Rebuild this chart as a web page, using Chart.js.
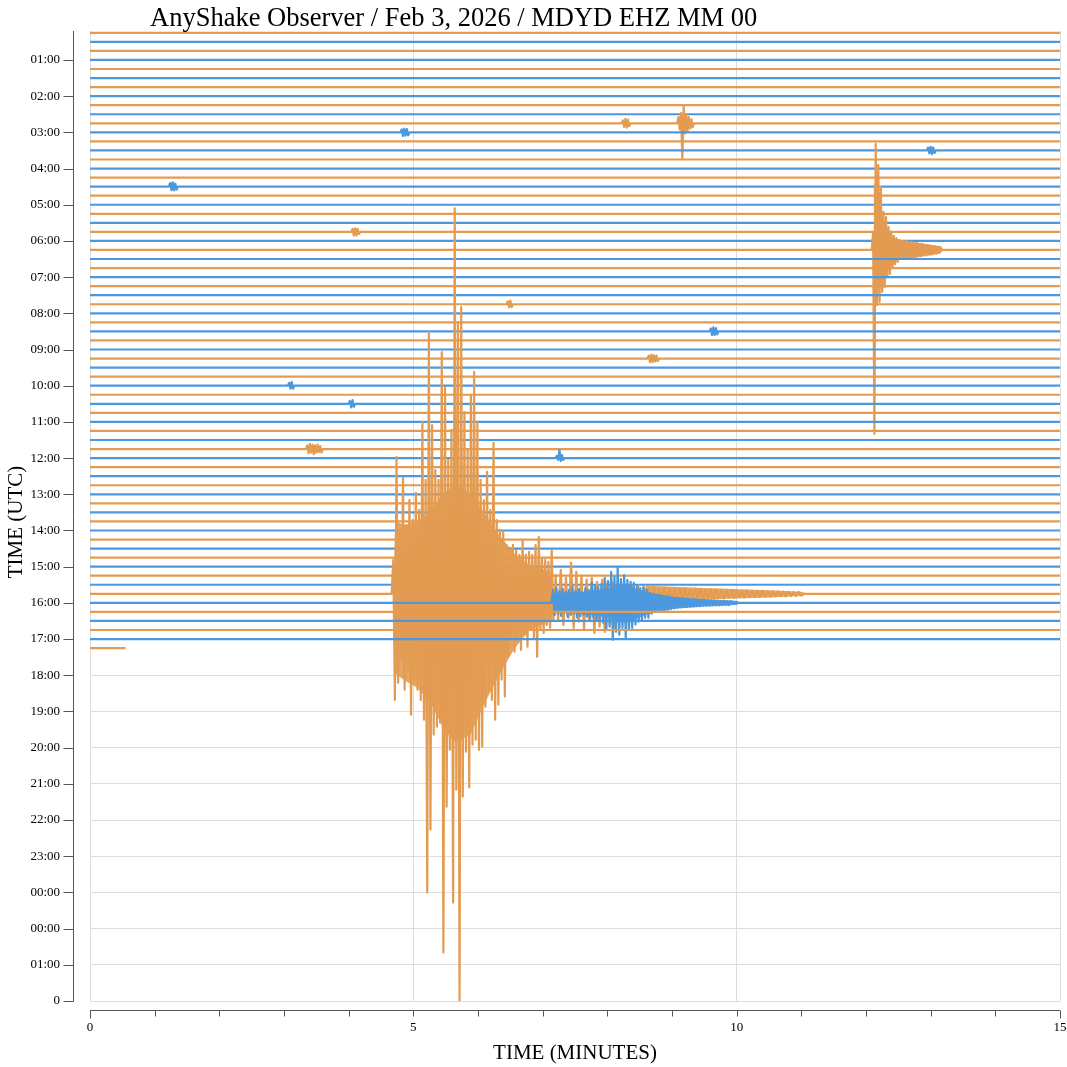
<!DOCTYPE html>
<html>
<head>
<meta charset="utf-8">
<title>AnyShake Observer helicorder</title>
<script src="https://cdn.jsdelivr.net/npm/chart.js@4.4.1/dist/chart.umd.min.js"></script>
<style>
  html, body { margin: 0; padding: 0; background: #fff; }
  #wrap { width: 1067px; height: 1067px; }
</style>
</head>
<body>
<div id="wrap"><canvas id="heli"></canvas></div>
<script>
"use strict";

// Labels
const chartTitle = "AnyShake Observer / Feb 3, 2026 / MDYD EHZ MM 00";
const yTitle = "TIME (UTC)";
const xTitle = "TIME (MINUTES)";
// y tick labels, bottom (0) to top (26)
const yTickLabels = ["0", "01:00", "00:00", "00:00", "23:00", "22:00", "21:00", "20:00", "19:00",
    "18:00", "17:00", "16:00", "15:00", "14:00", "13:00", "12:00", "11:00", "10:00", "09:00",
    "08:00", "07:00", "06:00", "05:00", "04:00", "03:00", "02:00", "01:00"];
const xLabelValues = [0, 5, 10, 15];

// Traces: 15 minute lines, 4 per hour row, top to bottom
const traceColors = ["#e39b51", "#4b98df"];
const envColors = ["rgba(227,155,81,0.9)", "rgba(75,152,223,0.9)"];
const traceCount = 69;
const firstTraceLevel = 26.75;
const traceSpacing = 0.25;
const lastTraceEnd = 0.55; // minutes recorded on the last (partial) line

// Main shock, line 62 (orange), samples every 0.025 min from 4.69 min
const mainShockValues = [
    0.94, -2.93, 3.78, -2.46, 1.77, -1.82, 3.20, -2.65, 1.90, -2.10,
    2.59, -3.34, 2.04, -2.37, 2.79, -2.65, 2.32, -2.93, 4.75, -3.48,
    3.15, -8.25, 7.23, -6.51, 4.66, -3.89, 3.42, -3.67, 3.15, -3.56,
    6.68, -9.91, 5.71, -5.88, 3.70, -4.31, 4.53, -8.53, 10.65, -5.41,
    7.51, -11.23, 7.92, -5.60, 5.02, -4.36, 3.97, -5.35, 5.49, -4.17,
    6.13, -4.03, 4.75, -4.31, 3.15, -4.22, 2.59, -3.12, 3.37, -2.65,
    2.32, -2.93, 4.17, -3.48, 2.04, -3.06, 1.77, -2.37, 1.71, -2.84,
    1.35, -1.74, 1.27, -1.27, 1.35, -1.60, 1.21, -1.27, 1.08, -1.55,
    1.49, -1.13, 1.08, -1.46, 1.16, -0.99, 1.08, -1.21, 1.35, -1.74,
    1.57, -0.99, 0.99, -1.08, 0.94, -0.86, 0.88, -0.94, 1.21, -0.72];

// Orange coda on the same line, every 0.04 min from 7.2 min
const mainCodaValues = [
    0.52, -0.72, 0.66, -0.86, 0.44, -0.66, 0.86, -0.94, 0.61, -0.77,
    0.50, -0.99, 0.39, -0.72, 0.44, -1.08, 0.33, -0.91, 0.39, -1.05,
    0.28, -0.83, 0.30, -0.94, 0.25, -0.72, 0.22, -0.80, 0.22, -0.66,
    0.20, -0.58, 0.19, -0.50, 0.18, -0.41, 0.17, -0.36, 0.17, -0.19,
    0.16, -0.17, 0.17, -0.16, 0.15, -0.17, 0.16, -0.15, 0.14, -0.16,
    0.15, -0.14, 0.13, -0.15, 0.14, -0.13, 0.13, -0.14, 0.12, -0.13,
    0.13, -0.12, 0.12, -0.12, 0.11, -0.12, 0.11, -0.10, 0.10, -0.11,
    0.10, -0.09, 0.09, -0.10, 0.09, -0.09, 0.08, -0.09, 0.08, -0.08,
    0.08, -0.08, 0.07, -0.08, 0.07, -0.07, 0.07, -0.06, 0.06, -0.07,
    0.06, -0.06, 0.05, -0.06, 0.05, -0.05];

// Blue line 63, every 0.025 min from 7.16 min
const blueCodaValues = [
    0.36, -0.33, 0.41, -0.30, 0.33, -0.36, 0.39, -0.28, 0.30, -0.39,
    0.36, -0.33, 0.44, -0.30, 0.33, -0.41, 0.38, -0.36, 0.30, -0.33,
    0.41, -0.38, 0.36, -0.44, 0.55, -0.41, 0.47, -0.50, 0.44, -0.47,
    0.52, -0.55, 0.69, -0.75, 0.60, -0.66, 0.86, -1.02, 0.72, -0.80,
    0.97, -0.88, 0.66, -0.69, 0.77, -0.97, 0.63, -0.72, 0.58, -0.69,
    0.55, -0.60, 0.47, -0.52, 0.41, -0.47, 0.44, -0.41, 0.36, -0.41,
    0.28, -0.30, 0.25, -0.25, 0.22, -0.25, 0.22, -0.19, 0.19, -0.22,
    0.17, -0.19, 0.17, -0.17, 0.14, -0.15, 0.14, -0.13, 0.12, -0.12,
    0.11, -0.11, 0.10, -0.11, 0.10, -0.10, 0.09, -0.10, 0.09, -0.09,
    0.08, -0.09, 0.08, -0.08, 0.08, -0.08, 0.07, -0.08, 0.07, -0.07,
    0.07, -0.07, 0.06, -0.07, 0.06, -0.06, 0.06, -0.06, 0.05, -0.06, 0.05];

// Local event on line 24 (about 06:00 row), every 0.02 min from 12.11 min
const eventBValues = [
    0.50, -5.08, 2.93, -1.52, 2.35, -1.44, 1.74, -1.16, 1.05, -1.02,
    0.91, -0.75, 0.63, -0.66, 0.50, -0.47, 0.39, -0.39, 0.33, -0.33,
    0.28, -0.25, 0.25, -0.25, 0.22, -0.25, 0.25, -0.22, 0.20, -0.20,
    0.22, -0.19, 0.18, -0.20, 0.19, -0.17, 0.16, -0.17, 0.17, -0.14,
    0.14, -0.15, 0.13, -0.12, 0.12, -0.13, 0.11, -0.10, 0.10, -0.10,
    0.09, -0.08, 0.08];

// Small event on line 10 (02:30 row), every 0.02 min from 9.10 min
const eventCValues = [0.17, -0.17, 0.28, -0.99, 0.47, -0.28, 0.25, -0.22, 0.17, -0.14, 0.11, -0.11];

// Little bursts in the noise: line, start minute, samples every 0.02 min
const blipTraces = [46, 36, 47, 11, 17, 13, 33, 41, 39, 22, 30, 10];
const blipStarts = [3.36, 8.64, 7.22, 4.82, 1.24, 12.96, 9.60, 4.02, 3.08, 4.06, 6.46, 8.24];
const blipValues = [
    [0.10, -0.12, 0.14, -0.10, 0.12, -0.14, 0.10, -0.10, 0.12, -0.08, 0.08, -0.10],
    [0.08, -0.10, 0.11, -0.10, 0.09, -0.08, 0.08, -0.07],
    [0.06, -0.05, 0.22, -0.08, 0.08, -0.05],
    [0.08, -0.10, 0.10, -0.09, 0.09, -0.08],
    [0.10, -0.10, 0.12, -0.10, 0.08, -0.08],
    [0.08, -0.08, 0.10, -0.10, 0.08, -0.07],
    [0.08, -0.10, 0.11, -0.10, 0.09, -0.08],
    [0.08, -0.10, 0.10, -0.08],
    [0.08, -0.08, 0.10, -0.08],
    [0.08, -0.10, 0.10, -0.10, 0.08, -0.06],
    [0.08, -0.08, 0.10, -0.08],
    [0.08, -0.10, 0.12, -0.12, 0.10, -0.08]
];

// Dense cores of the bursts (where the trace is solid colour): minute, upper, lower
const mainEnvMinutes = [4.69, 4.72, 4.87, 5.07, 5.26, 5.49, 5.64, 5.88, 6.11, 6.34, 6.57, 6.80, 7.14, 7.17];
const mainEnvUpper = [0, 2.0, 1.9, 2.0, 2.3, 2.8, 3.0, 2.8, 2.2, 1.6, 1.1, 0.8, 0.6, 0];
const mainEnvLower = [0, -2.2, -2.4, -2.6, -3.0, -3.8, -4.1, -3.9, -3.0, -2.2, -1.5, -1.0, -0.75, 0];

const codaEnvMinutes = [8.55, 8.6, 9.5, 10.5, 11.0, 11.1];
const codaEnvUpper = [0, 0.22, 0.16, 0.10, 0.06, 0];
const codaEnvLower = [0, -0.22, -0.16, -0.10, -0.06, 0];

const blueEnvMinutes = [7.16, 7.18, 7.6, 8.0, 8.3, 8.6, 9.0, 9.5, 10.0, 10.05];
const blueEnvUpper = [0, 0.28, 0.30, 0.40, 0.50, 0.30, 0.17, 0.10, 0.06, 0];
const blueEnvLower = [0, -0.26, -0.30, -0.40, -0.55, -0.33, -0.17, -0.10, -0.06, 0];

const eventBEnvMinutes = [12.11, 12.12, 12.2, 12.26, 12.35, 12.45, 12.8, 13.15, 13.2];
const eventBEnvUpper = [0, 1.85, 1.6, 0.9, 0.5, 0.3, 0.2, 0.1, 0];
const eventBEnvLower = [0, -0.85, -0.9, -0.6, -0.5, -0.3, -0.2, -0.1, 0];

// Event tables built from the arrays above
const events = [
    { trace: 62, start: 4.69, step: 0.025, values: mainShockValues },
    { trace: 62, start: 7.20, step: 0.04, values: mainCodaValues },
    { trace: 63, start: 7.16, step: 0.025, values: blueCodaValues },
    { trace: 24, start: 12.11, step: 0.02, values: eventBValues },
    { trace: 10, start: 9.10, step: 0.02, values: eventCValues }
];
blipTraces.forEach((t, k) => {
    events.push({ trace: t, start: blipStarts[k], step: 0.02, values: blipValues[k] });
});

const envelopes = [
    { trace: 62, minutes: mainEnvMinutes, upper: mainEnvUpper, lower: mainEnvLower },
    { trace: 62, minutes: codaEnvMinutes, upper: codaEnvUpper, lower: codaEnvLower },
    { trace: 63, minutes: blueEnvMinutes, upper: blueEnvUpper, lower: blueEnvLower },
    { trace: 24, minutes: eventBEnvMinutes, upper: eventBEnvUpper, lower: eventBEnvLower }
];

function traceLevel(i) {
    return firstTraceLevel - traceSpacing * i;
}

function buildTrace(i) {
    const base = traceLevel(i);
    const end = i === traceCount - 1 ? lastTraceEnd : 15;
    const segs = events.filter(e => e.trace === i).sort((a, b) => a.start - b.start);
    const pts = [{ x: 0, y: base }];
    segs.forEach(e => {
        const before = e.start - e.step;
        if (before > pts[pts.length - 1].x) pts.push({ x: before, y: base });
        e.values.forEach((v, k) => pts.push({ x: e.start + k * e.step, y: base + v }));
        pts.push({ x: e.start + e.values.length * e.step, y: base });
    });
    pts.push({ x: end, y: base });
    return pts;
}

const datasets = [];
for (let i = 0; i < traceCount; i++) {
    const color = traceColors[i % 2];
    datasets.push({
        data: buildTrace(i),
        borderColor: color,
        backgroundColor: color,
        borderWidth: 2.2,
        borderJoinStyle: 'round',
        pointRadius: 0,
        // fill each wiggle back to its own line so dense bursts read as solid
        fill: { value: traceLevel(i) },
        tension: 0,
        parsing: false,
        normalized: true,
        order: traceCount - i // later lines drawn on top
    });
}

// Solid cores, drawn just under their own trace
envelopes.forEach(env => {
    const base = traceLevel(env.trace);
    [env.upper, env.lower].forEach(side => {
        datasets.push({
            data: env.minutes.map((m, k) => ({ x: m, y: base + side[k] })),
            borderWidth: 0,
            borderColor: 'rgba(0,0,0,0)',
            backgroundColor: envColors[env.trace % 2],
            pointRadius: 0,
            fill: { value: base },
            tension: 0,
            parsing: false,
            order: traceCount - env.trace
        });
    });
});

// Axes drawn D3 style, detached from the plot area
const heliAxes = {
    id: 'heliAxes',
    afterDraw(chart) {
        const { ctx, chartArea: a, scales: { x, y } } = chart;
        ctx.save();
        ctx.strokeStyle = '#555';
        ctx.lineWidth = 1;

        const ax = a.left - 16.5;
        ctx.beginPath();
        ctx.moveTo(ax, a.top);
        ctx.lineTo(ax, a.bottom + 0.5);
        y.ticks.forEach(t => {
            const py = Math.round(y.getPixelForValue(t.value)) + 0.5;
            ctx.moveTo(ax - 10, py);
            ctx.lineTo(ax, py);
        });
        ctx.stroke();

        const ay = a.bottom + 9.5;
        ctx.beginPath();
        ctx.moveTo(a.left, ay);
        ctx.lineTo(a.right, ay);
        x.ticks.forEach(t => {
            const px = Math.round(x.getPixelForValue(t.value)) + 0.5;
            const len = (t.value === 0 || t.value === 15) ? 8 : 6;
            ctx.moveTo(px, ay);
            ctx.lineTo(px, ay + len);
        });
        ctx.stroke();

        ctx.fillStyle = '#000';
        ctx.font = '26.5px "Liberation Serif"';
        ctx.textAlign = 'left';
        ctx.textBaseline = 'alphabetic';
        ctx.fillText(chartTitle, 150, 26);

        ctx.font = '21px "Liberation Serif"';
        ctx.textAlign = 'center';
        ctx.textBaseline = 'middle';
        ctx.fillText(xTitle, (a.left + a.right) / 2, 1053);

        ctx.translate(16, 522);
        ctx.rotate(-Math.PI / 2);
        ctx.fillText(yTitle, 0, 0);
        ctx.restore();
    }
};

Chart.defaults.font.family = '"Liberation Serif", serif';

new Chart(document.getElementById('heli'), {
    type: 'line',
    data: { datasets: datasets },
    options: {
        responsive: true,
        maintainAspectRatio: false,
        animation: false,
        events: [],
        layout: { padding: { top: 31, right: 7, left: 0, bottom: 0 } },
        plugins: { legend: { display: false }, tooltip: { enabled: false }, title: { display: false } },
        scales: {
            x: {
                type: 'linear',
                min: 0,
                max: 15,
                afterFit: s => { s.height = 66; s.paddingLeft = 0; s.paddingRight = 0; },
                border: { display: false },
                grid: {
                    drawTicks: false,
                    color: c => xLabelValues.includes(c.tick.value) ? '#dddddd' : 'rgba(0,0,0,0)'
                },
                ticks: {
                    stepSize: 1,
                    autoSkip: false,
                    maxRotation: 0,
                    padding: 19,
                    color: '#000',
                    font: { size: 13 },
                    callback: v => xLabelValues.includes(v) ? String(v) : ''
                }
            },
            y: {
                type: 'linear',
                min: 0,
                max: 26.8,
                afterFit: s => { s.width = 90; s.paddingTop = 0; s.paddingBottom = 0; },
                border: { display: false },
                grid: { drawTicks: false, color: '#dddddd' },
                ticks: {
                    stepSize: 1,
                    includeBounds: false,
                    autoSkip: false,
                    padding: 30,
                    color: '#000',
                    font: { size: 13 },
                    callback: v => yTickLabels[v] !== undefined ? yTickLabels[v] : ''
                }
            }
        }
    },
    plugins: [heliAxes]
});
</script>
</body>
</html>
